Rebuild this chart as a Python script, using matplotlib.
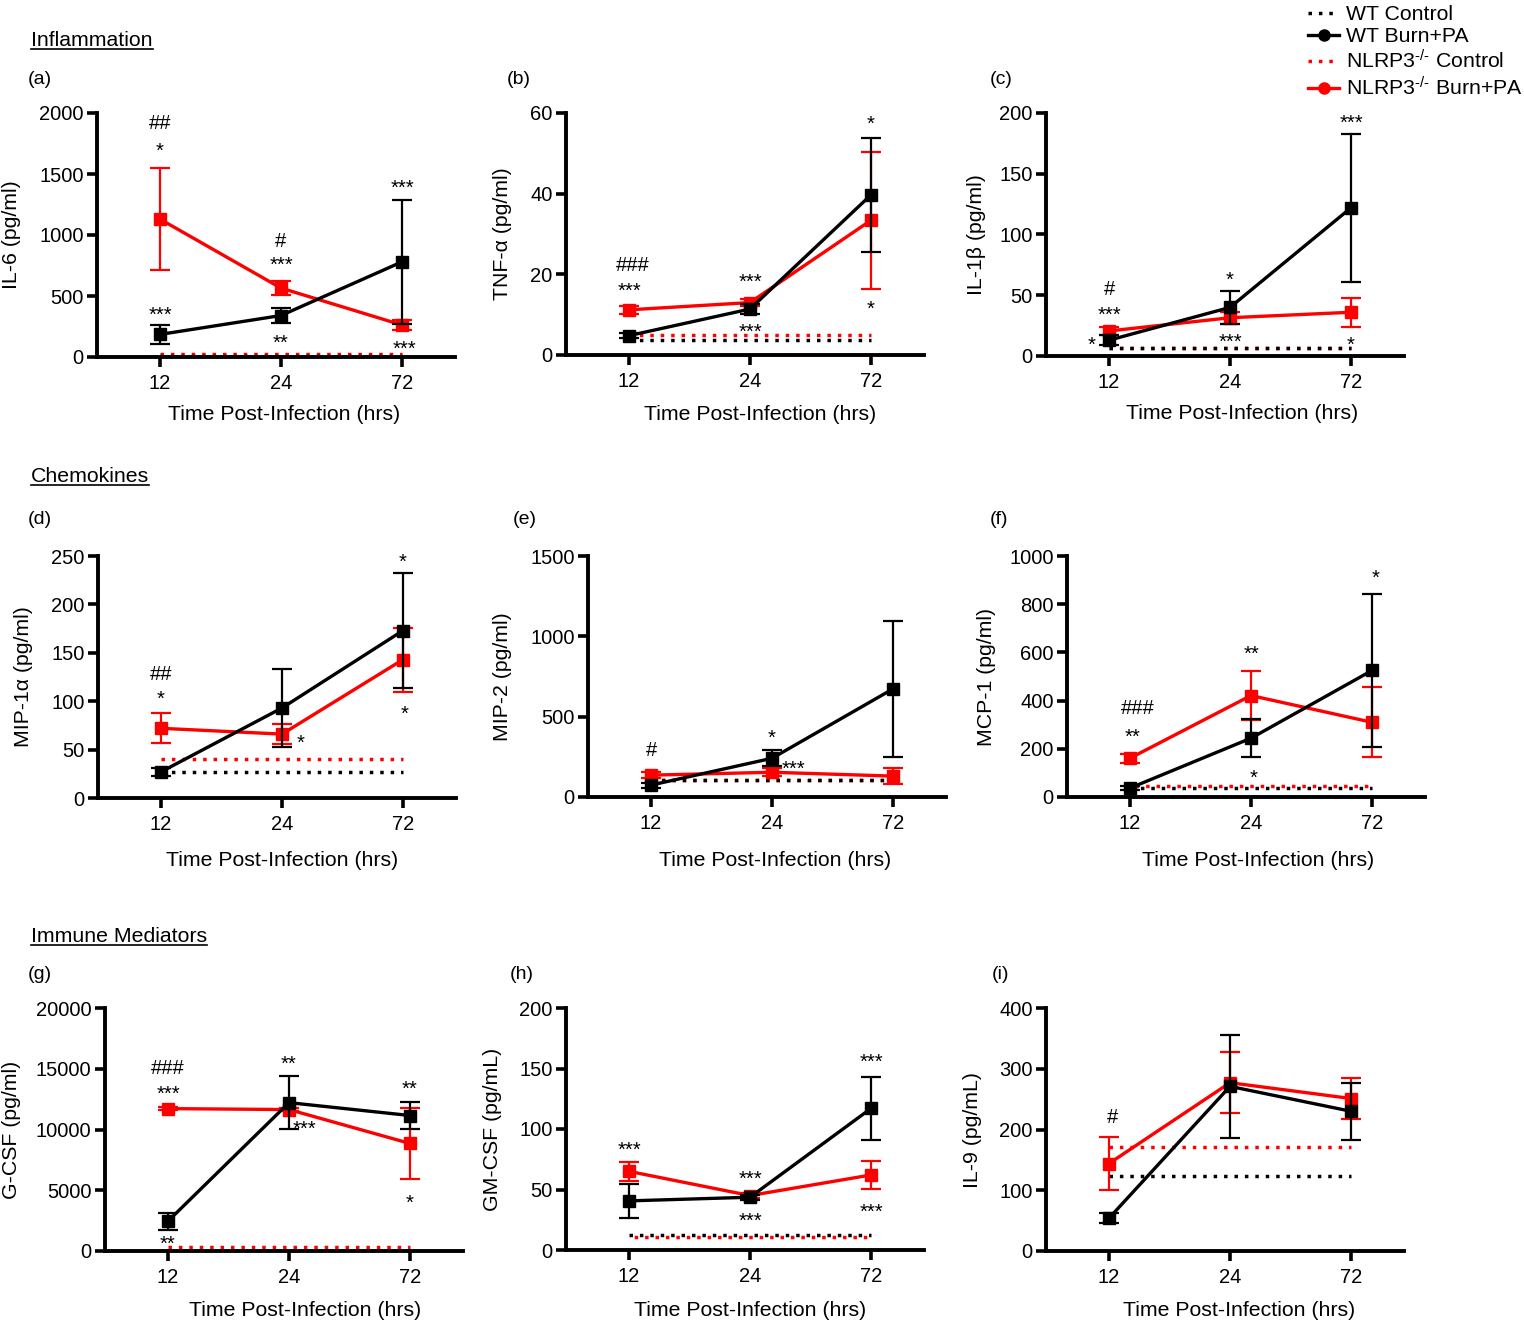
import matplotlib
matplotlib.use('Agg')
import matplotlib.pyplot as plt
from matplotlib.lines import Line2D
from matplotlib.transforms import offset_copy

plt.rcParams['font.family'] = ['Liberation Sans', 'DejaVu Sans']
plt.rcParams['mathtext.fontset'] = 'custom'
plt.rcParams['mathtext.rm'] = 'Liberation Sans'
plt.rcParams['mathtext.it'] = 'Liberation Sans:italic'
plt.rcParams['mathtext.bf'] = 'Liberation Sans:bold'

W, H = 1524, 1323
RED = '#fe0000'

hours = ['12', '24', '72']

# mean and error bar half-length, WT Burn+PA and NLRP3-/- Burn+PA
# controls: [WT Control, NLRP3-/- Control]
il6_wt = [185, 340, 780]
il6_wt_sem = [75, 65, 510]
il6_ko = [1130, 565, 262]
il6_ko_sem = [420, 60, 40]
il6_ctrl = [10, 25]

tnf_wt = [4.8, 11.4, 39.7]
tnf_wt_sem = [0.7, 1.2, 14.2]
tnf_ko = [11.2, 13.0, 33.4]
tnf_ko_sem = [1.0, 0.8, 17.0]
tnf_ctrl = [3.7, 4.9]

il1b_wt = [13, 40, 122]
il1b_wt_sem = [4, 13.5, 61]
il1b_ko = [20.6, 31.5, 36]
il1b_ko_sem = [3, 5, 12]
il1b_ctrl = [6.5, 6.5]

mip1a_wt = [27, 93, 173]
mip1a_wt_sem = [4, 40, 59]
mip1a_ko = [72, 66, 143]
mip1a_ko_sem = [15.5, 10, 33]
mip1a_ctrl = [27, 40]

mip2_wt = [74, 241, 673]
mip2_wt_sem = [15, 50, 425]
mip2_ko = [136, 154, 130]
mip2_ko_sem = [20, 25, 50]
mip2_ctrl = [105, 105]

mcp1_wt = [37, 244, 525]
mcp1_wt_sem = [10, 78, 318]
mcp1_ko = [161, 421, 310]
mcp1_ko_sem = [18, 100, 145]
mcp1_ctrl = [38, 44]

gcsf_wt = [2460, 12210, 11150]
gcsf_wt_sem = [700, 2170, 1100]
gcsf_ko = [11720, 11640, 8850]
gcsf_ko_sem = [150, 150, 2950]
gcsf_ctrl = [30, 300]

gmcsf_wt = [40.6, 43.6, 117]
gmcsf_wt_sem = [14, 2, 26]
gmcsf_ko = [65, 45, 62]
gmcsf_ko_sem = [8, 2, 11.5]
gmcsf_ctrl = [12, 11]

il9_wt = [54, 271, 230]
il9_wt_sem = [8, 85, 47]
il9_ko = [144, 277, 251]
il9_ko_sem = [44, 50, 33]
il9_ctrl = [123, 172]

# significance marks: (text, x index, y)
il6_marks = [('##', 0, 1930), ('*', 0, 1740), ('***', 0, 400), ('#', 1, 960),
             ('***', 1, 810), ('**', 1, 165), ('***', 2, 1435), ('***', 2.02, 115)]
tnf_marks = [('###', 0.03, 22.7), ('***', 0, 17.5), ('***', 1, 19.7),
             ('***', 1, 7.2), ('*', 2, 59), ('*', 2, 13)]
il1b_marks = [('#', 0, 56), ('***', 0, 39), ('*', -0.14, 14), ('*', 1, 68),
              ('***', 1, 16.5), ('***', 2, 197), ('*', 2, 14)]
mip1a_marks = [('##', 0, 130), ('*', 0, 109), ('*', 1.155, 63), ('*', 2, 251), ('*', 2.01, 93)]
mip2_marks = [('#', 0, 302), ('*', 1, 407), ('***', 1.18, 216)]
mcp1_marks = [('###', 0.06, 376), ('**', 0.02, 277), ('**', 1.0, 620),
              ('*', 1.02, 107), ('*', 2.03, 934)]
gcsf_marks = [('###', 0, 15160), ('***', 0, 13440), ('**', 0, 1150), ('**', 1, 15900),
              ('***', 1.13, 10560), ('**', 2.0, 13900), ('*', 2.0, 4500)]
gmcsf_marks = [('***', 0, 88), ('***', 1, 64), ('***', 1, 29), ('***', 2, 161), ('***', 2, 37)]
il9_marks = [('#', 0.03, 223)]

panels = [
    ('(a)', 'IL-6 (pg/ml)', 2000, 500, il6_wt, il6_wt_sem, il6_ko, il6_ko_sem, il6_ctrl, il6_marks),
    ('(b)', 'TNF-α (pg/ml)', 60, 20, tnf_wt, tnf_wt_sem, tnf_ko, tnf_ko_sem, tnf_ctrl, tnf_marks),
    ('(c)', 'IL-1β (pg/ml)', 200, 50, il1b_wt, il1b_wt_sem, il1b_ko, il1b_ko_sem, il1b_ctrl, il1b_marks),
    ('(d)', 'MIP-1α (pg/ml)', 250, 50, mip1a_wt, mip1a_wt_sem, mip1a_ko, mip1a_ko_sem, mip1a_ctrl, mip1a_marks),
    ('(e)', 'MIP-2 (pg/ml)', 1500, 500, mip2_wt, mip2_wt_sem, mip2_ko, mip2_ko_sem, mip2_ctrl, mip2_marks),
    ('(f)', 'MCP-1 (pg/ml)', 1000, 200, mcp1_wt, mcp1_wt_sem, mcp1_ko, mcp1_ko_sem, mcp1_ctrl, mcp1_marks),
    ('(g)', 'G-CSF (pg/ml)', 20000, 5000, gcsf_wt, gcsf_wt_sem, gcsf_ko, gcsf_ko_sem, gcsf_ctrl, gcsf_marks),
    ('(h)', 'GM-CSF (pg/mL)', 200, 50, gmcsf_wt, gmcsf_wt_sem, gmcsf_ko, gmcsf_ko_sem, gmcsf_ctrl, gmcsf_marks),
    ('(i)', 'IL-9 (pg/mL)', 400, 100, il9_wt, il9_wt_sem, il9_ko, il9_ko_sem, il9_ctrl, il9_marks),
]

# pixel layout: x of "12" tick, axis top, axis bottom, ylabel centre x,
# xlabel centre x, xlabel centre y, panel letter x, letter baseline y,
# dot phase of the red control line (interleaves with the black one)
layout = [
    (160, 113, 357, 12, 284, 415, 28, 84, 0),
    (629, 113, 355, 502, 760, 415, 507, 84, 0),
    (1109, 113, 356, 976, 1242, 414, 990, 84, 0),
    (161, 556, 798, 23, 282, 860, 28, 524, 0),
    (651, 556, 797, 502, 775, 860, 513, 524, 0),
    (1130, 556, 797, 986, 1258, 860, 990, 524, 1.5),
    (168, 1008, 1251, 12, 305, 1311, 28, 979, 0),
    (629, 1008, 1250, 493, 750, 1310, 510, 979, 1.5),
    (1109, 1008, 1251, 972, 1239, 1311, 992, 979, 0),
]

sections = [('Inflammation', 31, 46), ('Chemokines', 31, 482), ('Immune Mediators', 31, 942)]

STEP = 121.0
XLO, XHI = -0.52, 2.44

fig = plt.figure(figsize=(W / 100, H / 100), dpi=100)

for (letter, ylab, ymax, ystep, wt, wt_sem, ko, ko_sem, ctrl, marks), \
        (x12, top, bot, ylx, xlx, xly, lx, ly, phase) in zip(panels, layout):
    left = x12 + XLO * STEP
    width = (XHI - XLO) * STEP
    ax = fig.add_axes([left / W, 1 - bot / H, width / W, (bot - top) / H])
    xpos = list(range(len(hours)))

    # controls (dotted, across the time range)
    ax.plot(xpos, [ctrl[1]] * len(hours), color=RED, ls=(phase, (1, 2)), lw=2.5, zorder=2)
    ax.plot(xpos, [ctrl[0]] * len(hours), color='k', ls=(0, (1, 2)), lw=2.5, zorder=2.1)

    ax.errorbar(xpos, ko, yerr=ko_sem, color=RED, marker='s', ms=8.5, lw=2.4,
                elinewidth=1.6, capsize=7, capthick=1.6, zorder=3)
    ax.errorbar(xpos, wt, yerr=wt_sem, color='k', marker='s', ms=8.5, lw=2.4,
                elinewidth=1.6, capsize=7, capthick=1.6, zorder=4)

    for s, xi, yv in marks:
        dy = -4.9 if set(s) == {'*'} else -1.4
        tr = offset_copy(ax.transData, fig=fig, y=dy, units='points')
        ax.text(xi, yv, s, transform=tr, ha='center', va='center',
                fontsize=14.5, clip_on=False, zorder=6)

    ax.set_xlim(XLO, XHI)
    ax.set_ylim(0, ymax)
    ax.set_xticks(xpos)
    ax.set_xticklabels(hours)
    ax.set_yticks(list(range(0, ymax + 1, ystep)))
    for side in ['top', 'right']:
        ax.spines[side].set_visible(False)
    for side in ['left', 'bottom']:
        ax.spines[side].set_linewidth(2.8)
    ax.tick_params(axis='both', length=7.2, width=2.6, labelsize=14.5)
    ax.tick_params(axis='y', pad=2.5)
    ax.tick_params(axis='x', pad=5)

    ax.set_ylabel(ylab, fontsize=15.3, va='center')
    ax.yaxis.set_label_coords((ylx - left) / width, 0.5)
    ax.set_xlabel('Time Post-Infection (hrs)', fontsize=15.3, va='center')
    ax.xaxis.set_label_coords((xlx - left) / width, -(xly - bot) / (bot - top))

    fig.text(lx / W, 1 - ly / H, letter, fontsize=14, va='baseline', ha='left')

# underlined section titles
fig.canvas.draw()
renderer = fig.canvas.get_renderer()
for title, tx, ty in sections:
    t = fig.text(tx / W, 1 - ty / H, title, fontsize=15.3, va='baseline', ha='left')
    bb = t.get_window_extent(renderer).transformed(fig.transFigure.inverted())
    uy = 1 - (ty + 3) / H
    fig.add_artist(Line2D([bb.x0, bb.x1], [uy, uy], color='k', lw=1.2,
                          transform=fig.transFigure))

handles = [Line2D([], [], color='k', ls=(0, (1, 2)), lw=2.5),
           Line2D([], [], color='k', lw=2.4, marker='o', ms=8),
           Line2D([], [], color=RED, ls=(0, (1, 2)), lw=2.5),
           Line2D([], [], color=RED, lw=2.4, marker='o', ms=8)]
labels = ['WT Control', 'WT Burn+PA',
          'NLRP3$^{\\text{-/-}}$ Control', 'NLRP3$^{\\text{-/-}}$ Burn+PA']
fig.legend(handles, labels, loc='upper left', bbox_to_anchor=(1306 / W, 1 - 3 / H),
           frameon=False, fontsize=15.3, handlelength=1.45, handletextpad=0.35,
           labelspacing=0.15, borderpad=0.1, borderaxespad=0)

fig.savefig('out.png', dpi=100)
